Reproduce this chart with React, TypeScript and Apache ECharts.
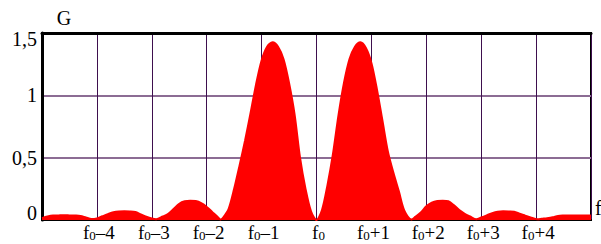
import React, { useEffect, useRef } from "react";
import * as echarts from "echarts";

// frequency offsets from f0 (in units) and spectral density G
const fOffsets = [
  -5.0, -4.9, -4.8, -4.7, -4.6, -4.5, -4.4, -4.3, -4.2, -4.1, -4.0,
  -3.9, -3.8, -3.7, -3.6, -3.5, -3.4, -3.3, -3.2, -3.1, -3.0, -2.92,
  -2.8, -2.7, -2.6, -2.5, -2.4, -2.3, -2.2, -2.1, -2.0, -1.9, -1.8, -1.75,
  -1.7, -1.6, -1.5, -1.4, -1.3, -1.2, -1.1, -1.0, -0.9, -0.8, -0.7, -0.6,
  -0.5, -0.4, -0.3, -0.2, -0.1, 0,
  0.1, 0.2, 0.3, 0.4, 0.5, 0.6, 0.7, 0.8, 0.9, 1.0, 1.1, 1.2, 1.3, 1.4,
  1.5, 1.6, 1.73, 1.8, 1.9, 2.0, 2.1, 2.2, 2.3, 2.4, 2.5, 2.6, 2.7, 2.8,
  2.91, 3.0, 3.1, 3.2, 3.3, 3.4, 3.5, 3.6, 3.7, 3.8, 3.9, 4.03, 4.1, 4.2,
  4.3, 4.4, 4.5, 4.6, 4.7, 4.8, 4.9, 5.0,
];
const gValues = [
  0.015, 0.028, 0.036, 0.037, 0.038, 0.037, 0.036, 0.033, 0.02, 0.008, 0.013,
  0.03, 0.047, 0.062, 0.069, 0.07, 0.069, 0.064, 0.045, 0.026, 0.012, 0.006,
  0.028, 0.05, 0.09, 0.13, 0.15, 0.155, 0.152, 0.135, 0.105, 0.065, 0.025, 0.004,
  0.02, 0.09, 0.25, 0.44, 0.64, 0.86, 1.09, 1.28, 1.39, 1.425, 1.39, 1.29,
  1.1, 0.85, 0.5, 0.25, 0.07, 0,
  0.08, 0.28, 0.53, 0.84, 1.1, 1.29, 1.39, 1.425, 1.38, 1.26, 1.05, 0.8, 0.55, 0.38,
  0.23, 0.075, 0.004, 0.025, 0.06, 0.11, 0.14, 0.153, 0.155, 0.15, 0.12, 0.08, 0.05, 0.028,
  0.006, 0.02, 0.037, 0.055, 0.067, 0.07, 0.069, 0.067, 0.05, 0.035, 0.02, 0.006, 0.01, 0.015,
  0.022, 0.033, 0.036, 0.037, 0.037, 0.037, 0.037, 0.037,
];

const xTickValues = [-4, -3, -2, -1, 0, 1, 2, 3, 4];
const xTickSuffixes = ["–4", "–3", "–2", "–1", "", "+1", "+2", "+3", "+4"];
const yTickValues = [0, 0.5, 1, 1.5];
const yTickLabels = ["0", "0,5", "1", "1,5"];

const FONT = "'Liberation Serif', 'Times New Roman', serif";

export default function App() {
  const ref = useRef<HTMLDivElement>(null);
  useEffect(() => {
    const chart = echarts.init(ref.current!, null, { renderer: "svg" });
    chart.setOption({
      animation: false,
      grid: {
        left: 42,
        right: 10,
        top: 33,
        bottom: 24,
        outerBoundsMode: "none",
        containLabel: false,
        show: true,
        borderColor: "#000",
        borderWidth: 2,
        backgroundColor: "#fff",
      },
      xAxis: [
        {
          type: "value",
          min: -5,
          max: 5,
          interval: 1,
          name: "f",
          nameLocation: "end",
          nameGap: 4,
          nameTextStyle: {
            fontFamily: FONT,
            fontSize: 20,
            color: "#000",
            verticalAlign: "bottom",
            padding: [0, 0, 2, 0],
          },
          axisLine: { show: true, onZero: false, lineStyle: { color: "#000", width: 2 } },
          axisTick: { show: false },
          splitLine: { show: true, lineStyle: { color: "#3e0f4e", width: 1 } },
          axisLabel: {
            margin: 2,
            color: "#000",
            fontFamily: FONT,
            fontSize: 19,
            padding: [0, 0, 0, 4],
            formatter: (v: number) => {
              const i = xTickValues.indexOf(Math.round(v));
              if (i < 0 || Math.abs(v) >= 5) return "";
              const suf = xTickSuffixes[i];
              return suf ? `{f|f}{s|0}{n|${suf}}` : `{f|f}{s|0}`;
            },
            rich: {
              f: { fontFamily: FONT, fontSize: 19, color: "#000", verticalAlign: "bottom", lineHeight: 20 },
              s: { fontFamily: FONT, fontSize: 13, color: "#000", verticalAlign: "bottom", lineHeight: 20 },
              n: { fontFamily: FONT, fontSize: 19, color: "#000", verticalAlign: "bottom", lineHeight: 20 },
            },
          },
        },
        {
          type: "value",
          min: -5,
          max: 5,
          interval: 1,
          position: "top",
          axisLine: { show: true, onZero: false, lineStyle: { color: "#000", width: 3 } },
          axisTick: { show: false },
          axisLabel: { show: false },
          splitLine: { show: false },
        },
      ],
      yAxis: {
        type: "value",
        min: 0,
        max: 1.5,
        interval: 0.5,
        name: "G",
        nameLocation: "end",
        nameGap: 5,
        nameTextStyle: {
          fontFamily: FONT,
          fontSize: 20,
          color: "#000",
          padding: [0, 0, 0, 44],
        },
        axisLine: { show: true, onZero: false, lineStyle: { color: "#000", width: 3 } },
        axisTick: { show: false },
        splitLine: { show: true, lineStyle: { color: "#8c6c94", width: 2 } },
        axisLabel: {
          margin: 5,
          color: "#000",
          fontFamily: FONT,
          fontSize: 20,
          formatter: (v: number) => {
            const i = yTickValues.indexOf(v);
            const t = i >= 0 ? yTickLabels[i] : "";
            if (v === 1.5) return `{top|${t}}`;
            if (v === 0) return `{bot|${t}}`;
            return `{m|${t}}`;
          },
          rich: {
            top: { fontFamily: FONT, fontSize: 20, color: "#000", padding: [12, 0, 0, 0] },
            bot: { fontFamily: FONT, fontSize: 20, color: "#000", padding: [0, 0, 14, 0] },
            m: { fontFamily: FONT, fontSize: 20, color: "#000" },
          },
        },
      },
      series: [
        {
          type: "line",
          xAxisIndex: 0,
          data: fOffsets.map((f, i) => [f, gValues[i]]),
          symbol: "none",
          smooth: 0.3,
          lineStyle: { color: "#ff0000", width: 2 },
          areaStyle: { color: "#ff0000", opacity: 1 },
          z: 3,
        },
      ],
    });
    return () => chart.dispose();
  }, []);
  return (
    <div
      ref={ref}
      style={{ position: "fixed", left: 0, top: 0, width: 601, height: 244, background: "#fff" }}
    />
  );
}
